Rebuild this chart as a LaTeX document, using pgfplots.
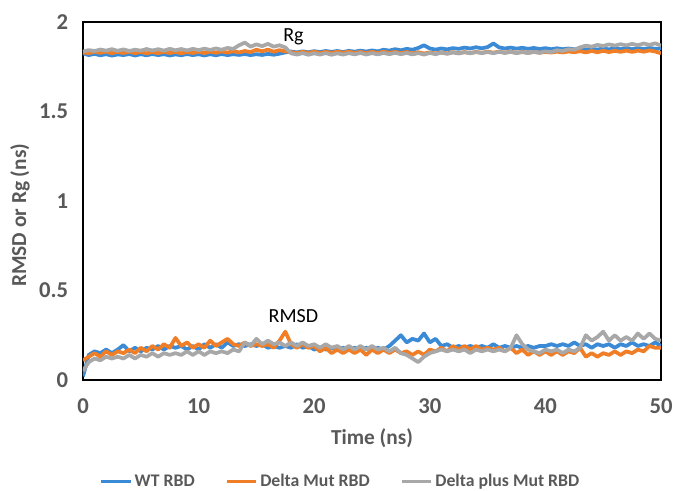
\documentclass[border=0pt]{standalone}
\usepackage{pgfplots}
\usepackage{pgfplotstable}
\pgfplotsset{compat=1.18}
\usepackage{fontspec}
\setmainfont{Carlito}

\definecolor{wtblue}{HTML}{3A8AD6}
\definecolor{dmorange}{HTML}{F07E26}
\definecolor{dpgray}{HTML}{A8A8A8}
\definecolor{txtgray}{HTML}{595959}

% t, WT, Delta Mut, Delta plus Mut  (Rg, nm)
\pgfplotstableread{
t wt dm dp
0.0 1.825 1.830 1.835
0.5 1.815 1.826 1.843
1.0 1.822 1.834 1.838
1.5 1.814 1.828 1.846
2.0 1.820 1.835 1.840
2.5 1.812 1.826 1.848
3.0 1.819 1.833 1.839
3.5 1.815 1.827 1.847
4.0 1.821 1.834 1.838
4.5 1.813 1.826 1.845
5.0 1.820 1.833 1.840
5.5 1.814 1.825 1.849
6.0 1.821 1.832 1.841
6.5 1.815 1.826 1.848
7.0 1.820 1.834 1.840
7.5 1.813 1.827 1.850
8.0 1.819 1.833 1.842
8.5 1.814 1.825 1.849
9.0 1.821 1.832 1.841
9.5 1.815 1.827 1.850
10.0 1.820 1.834 1.843
10.5 1.813 1.826 1.851
11.0 1.820 1.835 1.844
11.5 1.814 1.828 1.852
12.0 1.821 1.836 1.845
12.5 1.815 1.829 1.855
13.0 1.820 1.837 1.850
13.5 1.816 1.830 1.870
14.0 1.821 1.838 1.885
14.5 1.815 1.832 1.862
15.0 1.820 1.845 1.875
15.5 1.816 1.836 1.865
16.0 1.822 1.846 1.878
16.5 1.817 1.834 1.862
17.0 1.823 1.843 1.870
17.5 1.830 1.836 1.858
18.0 1.835 1.832 1.825
18.5 1.830 1.826 1.818
19.0 1.836 1.833 1.826
19.5 1.831 1.827 1.817
20.0 1.837 1.834 1.825
20.5 1.832 1.826 1.818
21.0 1.838 1.833 1.826
21.5 1.833 1.827 1.817
22.0 1.838 1.834 1.825
22.5 1.832 1.828 1.818
23.0 1.839 1.835 1.826
23.5 1.834 1.827 1.819
24.0 1.840 1.833 1.827
24.5 1.835 1.826 1.818
25.0 1.841 1.833 1.826
25.5 1.836 1.827 1.819
26.0 1.845 1.834 1.827
26.5 1.840 1.828 1.820
27.0 1.848 1.833 1.828
27.5 1.842 1.826 1.820
28.0 1.850 1.832 1.827
28.5 1.845 1.825 1.819
29.0 1.855 1.831 1.826
29.5 1.870 1.824 1.818
30.0 1.852 1.830 1.827
30.5 1.846 1.824 1.820
31.0 1.852 1.830 1.829
31.5 1.847 1.825 1.822
32.0 1.854 1.831 1.830
32.5 1.850 1.826 1.824
33.0 1.857 1.832 1.831
33.5 1.852 1.827 1.825
34.0 1.859 1.833 1.832
34.5 1.853 1.828 1.826
35.0 1.860 1.834 1.832
35.5 1.880 1.829 1.826
36.0 1.858 1.834 1.833
36.5 1.852 1.829 1.827
37.0 1.857 1.834 1.833
37.5 1.851 1.828 1.826
38.0 1.856 1.833 1.832
38.5 1.850 1.828 1.826
39.0 1.855 1.833 1.833
39.5 1.849 1.828 1.828
40.0 1.854 1.833 1.836
40.5 1.848 1.829 1.832
41.0 1.853 1.834 1.842
41.5 1.848 1.830 1.838
42.0 1.852 1.835 1.848
42.5 1.847 1.831 1.845
43.0 1.852 1.837 1.858
43.5 1.846 1.830 1.868
44.0 1.851 1.838 1.862
44.5 1.846 1.831 1.872
45.0 1.852 1.839 1.866
45.5 1.847 1.832 1.875
46.0 1.853 1.839 1.868
46.5 1.848 1.833 1.876
47.0 1.853 1.840 1.869
47.5 1.848 1.833 1.878
48.0 1.854 1.840 1.870
48.5 1.849 1.834 1.880
49.0 1.855 1.841 1.872
49.5 1.850 1.835 1.881
50.0 1.852 1.825 1.868
}\rgdata

% RMSD
\pgfplotstableread{
t wt dm dp
0.0 0.02 0.11 0.05
0.5 0.14 0.13 0.10
1.0 0.16 0.15 0.12
1.5 0.15 0.13 0.11
2.0 0.17 0.16 0.13
2.5 0.15 0.14 0.12
3.0 0.17 0.16 0.13
3.5 0.195 0.15 0.12
4.0 0.16 0.17 0.14
4.5 0.18 0.15 0.12
5.0 0.16 0.18 0.14
5.5 0.18 0.16 0.13
6.0 0.17 0.19 0.15
6.5 0.19 0.17 0.13
7.0 0.17 0.20 0.15
7.5 0.19 0.18 0.14
8.0 0.18 0.235 0.15
8.5 0.19 0.19 0.14
9.0 0.17 0.21 0.16
9.5 0.19 0.18 0.14
10.0 0.17 0.20 0.16
10.5 0.20 0.18 0.14
11.0 0.18 0.22 0.16
11.5 0.20 0.19 0.15
12.0 0.18 0.21 0.16
12.5 0.21 0.23 0.15
13.0 0.19 0.20 0.17
13.5 0.20 0.19 0.16
14.0 0.19 0.21 0.21
14.5 0.20 0.19 0.19
15.0 0.19 0.20 0.23
15.5 0.20 0.19 0.20
16.0 0.18 0.20 0.22
16.5 0.19 0.18 0.20
17.0 0.18 0.22 0.21
17.5 0.19 0.27 0.19
18.0 0.18 0.20 0.21
18.5 0.20 0.18 0.19
19.0 0.18 0.20 0.21
19.5 0.19 0.18 0.19
20.0 0.17 0.19 0.20
20.5 0.18 0.16 0.18
21.0 0.17 0.18 0.20
21.5 0.18 0.15 0.18
22.0 0.17 0.17 0.19
22.5 0.18 0.15 0.17
23.0 0.17 0.17 0.19
23.5 0.18 0.15 0.17
24.0 0.17 0.17 0.19
24.5 0.18 0.14 0.17
25.0 0.17 0.17 0.19
25.5 0.18 0.15 0.17
26.0 0.17 0.17 0.18
26.5 0.19 0.15 0.16
27.0 0.22 0.17 0.18
27.5 0.25 0.15 0.15
28.0 0.21 0.16 0.14
28.5 0.23 0.14 0.12
29.0 0.22 0.16 0.10
29.5 0.26 0.14 0.13
30.0 0.21 0.17 0.15
30.5 0.23 0.16 0.16
31.0 0.19 0.18 0.17
31.5 0.20 0.16 0.16
32.0 0.18 0.19 0.17
32.5 0.19 0.17 0.16
33.0 0.18 0.19 0.17
33.5 0.19 0.17 0.15
34.0 0.18 0.19 0.17
34.5 0.19 0.17 0.16
35.0 0.18 0.18 0.17
35.5 0.20 0.17 0.16
36.0 0.18 0.18 0.17
36.5 0.19 0.16 0.16
37.0 0.18 0.18 0.18
37.5 0.19 0.15 0.25
38.0 0.18 0.17 0.20
38.5 0.19 0.14 0.17
39.0 0.18 0.16 0.16
39.5 0.19 0.14 0.15
40.0 0.19 0.16 0.17
40.5 0.20 0.14 0.16
41.0 0.19 0.16 0.17
41.5 0.20 0.14 0.15
42.0 0.19 0.16 0.17
42.5 0.21 0.15 0.16
43.0 0.19 0.18 0.18
43.5 0.20 0.13 0.25
44.0 0.18 0.15 0.22
44.5 0.20 0.13 0.24
45.0 0.19 0.15 0.27
45.5 0.20 0.14 0.22
46.0 0.18 0.16 0.25
46.5 0.20 0.14 0.22
47.0 0.19 0.16 0.24
47.5 0.21 0.15 0.22
48.0 0.19 0.17 0.26
48.5 0.20 0.16 0.23
49.0 0.19 0.19 0.26
49.5 0.21 0.18 0.23
50.0 0.19 0.18 0.22
}\rmsddata

\begin{document}
\begin{tikzpicture}
\useasboundingbox (-62.25pt,-83.25pt) rectangle (442.5pt,285pt);
\begin{axis}[
  scale only axis,
  width=433.5pt, height=268.5pt,
  xmin=0, xmax=50, ymin=0, ymax=2,
  xtick={0,10,...,50},
  ytick={0,0.5,1,1.5,2},
  major tick length=0pt,
  axis line style={black, line width=1.6pt},
  /pgf/number format/assume math mode=true,
  tick label style={font=\fontsize{17}{17}\selectfont\bfseries, text=txtgray, inner sep=0pt},
  xticklabel shift=14pt,
  yticklabel shift=11pt,
  xlabel={Time (ns)},
  ylabel={RMSD or Rg (ns)},
  label style={font=\fontsize{16}{16}\selectfont\bfseries, text=txtgray},
  xlabel style={at={(axis description cs:0.5,-0.162)}, anchor=center},
  ylabel style={at={(axis description cs:-0.109,0.46)}, anchor=center, rotate=0},
  legend columns=3,
  legend style={at={(axis description cs:0.445,-0.284)}, anchor=center,
    draw=none, fill=none, font=\fontsize{13.3}{13.3}\selectfont\bfseries, text=txtgray,
    inner sep=0pt,
    nodes={inner sep=1pt},
    /tikz/every odd column/.append style={column sep=1pt},
    /tikz/every even column/.append style={column sep=22pt}},
  legend image code/.code={\draw[#1, line width=2.2pt] (0pt,0pt) -- (22pt,0pt);},
  every axis plot/.append style={line width=2.8pt, line join=round},
]
\addplot[wtblue] table[x=t, y=wt] {\rgdata};
\addlegendentry{WT RBD}
\addplot[dmorange] table[x=t, y=dm] {\rgdata};
\addlegendentry{Delta Mut RBD}
\addplot[dpgray] table[x=t, y=dp] {\rgdata};
\addlegendentry{Delta plus Mut RBD}
\addplot[wtblue, forget plot] table[x=t, y=wt] {\rmsddata};
\addplot[dmorange, forget plot] table[x=t, y=dm] {\rmsddata};
\addplot[dpgray, forget plot] table[x=t, y=dp] {\rmsddata};
\node[font=\fontsize{15}{15}\selectfont] at (axis cs:18.2,1.92) {Rg};
\node[font=\fontsize{15}{15}\selectfont] at (axis cs:18.2,0.357) {RMSD};
\end{axis}
\end{tikzpicture}
\end{document}
